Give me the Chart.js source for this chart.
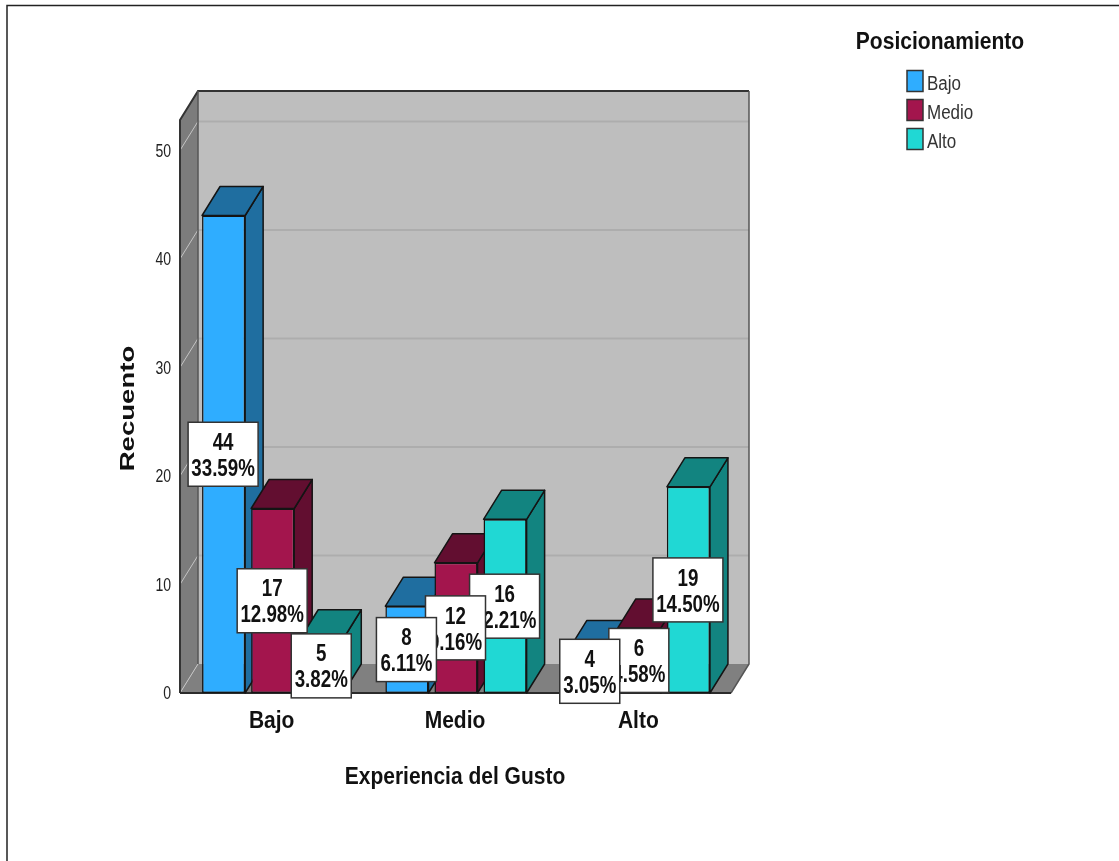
<!DOCTYPE html>
<html>
<head>
<meta charset="utf-8">
<style>
  html, body { margin: 0; padding: 0; background: #fff; }
  canvas { display: block; }
</style>
<script src="https://cdn.jsdelivr.net/npm/chart.js@4/dist/chart.umd.min.js"></script>
</head>
<body>
<canvas id="chart" width="1119" height="861"></canvas>
<script>
const categories = ['Bajo', 'Medio', 'Alto'];
const seriesNames = ['Bajo', 'Medio', 'Alto'];
const bajoCounts = [44, 8, 4];
const medioCounts = [17, 12, 6];
const altoCounts = [5, 16, 19];
const bajoPercents = ['33.59%', '6.11%', '3.05%'];
const medioPercents = ['12.98%', '9.16%', '4.58%'];
const altoPercents = ['3.82%', '12.21%', '14.50%'];
const yTicks = [0, 10, 20, 30, 40, 50];

const frontColors = ['#2fadff', '#a3154d', '#20d8d4'];
const sideColors = ['#1f6ea0', '#620e30', '#128480'];
const percentLists = [bajoPercents, medioPercents, altoPercents];

const SANS = '"Liberation Sans", Arial, sans-serif';
const DEPTH_X = 18;
const DEPTH_Y = 29;
const INK = '#141414';

function poly(ctx, pts, fill, stroke, lw) {
  ctx.beginPath();
  pts.forEach((p, i) => i ? ctx.lineTo(p[0], p[1]) : ctx.moveTo(p[0], p[1]));
  ctx.closePath();
  if (fill) { ctx.fillStyle = fill; ctx.fill(); }
  if (stroke) { ctx.strokeStyle = stroke; ctx.lineWidth = lw || 1; ctx.stroke(); }
}

// Text squeezed horizontally around its anchor, for the condensed label look
function condensedText(ctx, text, x, y, squeeze) {
  ctx.save();
  ctx.translate(x, y);
  ctx.scale(squeeze, 1);
  ctx.fillText(text, 0, 0);
  ctx.restore();
}

// Wraps one of a scale's draw methods in a transform about (ox, oy); fit runs
// more than once per update, so each method is wrapped only the first time.
function reshape(scale, method, ox, oy, sx, sy, dx = 0, dy = 0) {
  const key = '_reshaped_' + method;
  if (scale[key]) return;
  scale[key] = true;
  const original = scale[method];
  scale[method] = function (...args) {
    const c = this.ctx;
    c.save();
    c.translate(ox + dx, oy + dy);
    c.scale(sx, sy);
    c.translate(-ox, -oy);
    original.apply(this, args);
    c.restore();
  };
}

function drawBox(chart) {
  const { ctx, chartArea: a, scales: { y } } = chart;
  const left = a.left - 1, right = a.right, top = a.top, bottom = a.bottom;
  poly(ctx, [[left + DEPTH_X, top - DEPTH_Y], [right + DEPTH_X, top - DEPTH_Y],
             [right + DEPTH_X, bottom - DEPTH_Y], [left + DEPTH_X, bottom - DEPTH_Y]], '#bebebe');
  poly(ctx, [[left, top], [left + DEPTH_X, top - DEPTH_Y],
             [left + DEPTH_X, bottom - DEPTH_Y], [left, bottom]], '#7c7c7c');
  poly(ctx, [[left, bottom], [left + DEPTH_X, bottom - DEPTH_Y],
             [right + DEPTH_X, bottom - DEPTH_Y], [right, bottom]], '#808080');
  y.ticks.forEach(t => {
    const py = y.getPixelForValue(t.value);
    if (t.value !== 0) {
      ctx.lineWidth = 2;
      ctx.strokeStyle = '#adadad';
      ctx.beginPath();
      ctx.moveTo(left + DEPTH_X, py - DEPTH_Y);
      ctx.lineTo(right + DEPTH_X, py - DEPTH_Y);
      ctx.stroke();
    }
    ctx.strokeStyle = '#c4c4c4';
    ctx.lineWidth = 1;
    ctx.beginPath();
    ctx.moveTo(left, py);
    ctx.lineTo(left + DEPTH_X, py - DEPTH_Y);
    ctx.stroke();
  });

  ctx.strokeStyle = '#333';
  ctx.lineWidth = 2;
  ctx.beginPath();
  ctx.moveTo(left, bottom);
  ctx.lineTo(left, top);
  ctx.lineTo(left + DEPTH_X, top - DEPTH_Y);
  ctx.lineTo(right + DEPTH_X, top - DEPTH_Y);
  ctx.stroke();
  ctx.strokeStyle = '#555';
  ctx.lineWidth = 1.5;
  ctx.beginPath();
  ctx.moveTo(left + DEPTH_X, top - DEPTH_Y);
  ctx.lineTo(left + DEPTH_X, bottom - DEPTH_Y);
  ctx.moveTo(right + DEPTH_X, top - DEPTH_Y);
  ctx.lineTo(right + DEPTH_X, bottom - DEPTH_Y);
  ctx.lineTo(right, bottom);
  ctx.stroke();
  ctx.strokeStyle = '#2b2b2b';
  ctx.lineWidth = 2;
  ctx.beginPath();
  ctx.moveTo(left, bottom);
  ctx.lineTo(right, bottom);
  ctx.stroke();
}

function drawBarDepth(chart, index) {
  const { ctx } = chart;
  const side = sideColors[index];
  ctx.lineJoin = 'round';
  chart.getDatasetMeta(index).data.forEach(bar => {
    const half = bar.width / 2;
    const l = bar.x - half, r = bar.x + half, t = bar.y, b = bar.base;
    poly(ctx, [[r, t], [r + DEPTH_X, t - DEPTH_Y], [r + DEPTH_X, b - DEPTH_Y], [r, b]], side, INK, 1.5);
    poly(ctx, [[l, t], [l + DEPTH_X, t - DEPTH_Y], [r + DEPTH_X, t - DEPTH_Y], [r, t]], side, INK, 1.5);
  });
}

function drawValueBoxes(chart) {
  const { ctx } = chart;
  ctx.textAlign = 'center';
  ctx.textBaseline = 'middle';
  ctx.font = 'bold 24px ' + SANS;
  for (let d = chart.data.datasets.length - 1; d >= 0; d--) {
    const counts = chart.data.datasets[d].data;
    chart.getDatasetMeta(d).data.forEach((bar, i) => {
      const cx = bar.x - 0.5;
      const cy = (bar.y + bar.base) / 2;
      const pct = percentLists[d][i];
      const w = pct.length > 5 ? 70 : 60;
      const h = 64;
      ctx.fillStyle = '#fff';
      ctx.strokeStyle = '#333';
      ctx.lineWidth = 1.5;
      ctx.fillRect(cx - w / 2, cy - h / 2, w, h);
      ctx.strokeRect(cx - w / 2, cy - h / 2, w, h);
      ctx.fillStyle = '#111';
      condensedText(ctx, String(counts[i]), cx, cy - 11, 0.78);
      condensedText(ctx, pct, cx, cy + 15, 0.78);
    });
  }
}

function drawLegend(ctx) {
  ctx.textBaseline = 'middle';
  ctx.textAlign = 'center';
  ctx.fillStyle = '#111';
  ctx.font = 'bold 23px ' + SANS;
  condensedText(ctx, 'Posicionamiento', 940, 43, 0.915);
  ctx.textAlign = 'left';
  ctx.font = '20px ' + SANS;
  const rowY = [81, 110, 139];
  seriesNames.forEach((name, i) => {
    ctx.fillStyle = frontColors[i];
    ctx.strokeStyle = '#333';
    ctx.lineWidth = 1.5;
    ctx.fillRect(907, rowY[i] - 10.5, 16, 21);
    ctx.strokeRect(907, rowY[i] - 10.5, 16, 21);
    ctx.fillStyle = '#333';
    condensedText(ctx, name, 927, rowY[i] + 3, 0.85);
  });
}

function drawFrame(ctx) {
  ctx.strokeStyle = '#222';
  ctx.lineWidth = 1.5;
  ctx.beginPath();
  ctx.moveTo(7, 861);
  ctx.lineTo(7, 5.5);
  ctx.lineTo(1119, 5.5);
  ctx.stroke();
}

const boxPlugin = {
  id: 'box',
  // Series paint left to right so each bar's front covers its neighbour's side
  beforeDatasetsDraw(chart) {
    const { ctx } = chart;
    ctx.save();
    drawBox(chart);
    chart.data.datasets.forEach((ds, i) => {
      drawBarDepth(chart, i);
      chart.getDatasetMeta(i).controller.draw();
    });
    ctx.restore();
  },
  beforeDatasetDraw() { return false; },
  afterDatasetsDraw(chart) {
    const { ctx } = chart;
    ctx.save();
    drawValueBoxes(chart);
    drawLegend(ctx);
    drawFrame(ctx);
    ctx.restore();
  }
};

new Chart(document.getElementById('chart'), {
  type: 'bar',
  data: {
    labels: categories,
    datasets: [bajoCounts, medioCounts, altoCounts].map((values, i) => ({
      label: seriesNames[i],
      data: values,
      backgroundColor: frontColors[i],
      borderColor: INK,
      borderWidth: 1.5,
      borderSkipped: false,
      categoryPercentage: 0.803,
      barPercentage: 0.878
    }))
  },
  options: {
    responsive: false,
    animation: false,
    layout: { padding: { left: 0, top: 120, right: 388, bottom: 0 } },
    plugins: { legend: { display: false }, tooltip: { enabled: false } },
    scales: {
      x: {
        grid: { display: false, drawTicks: false },
        border: { display: false },
        afterFit(scale) {
          scale.height = 168;
          reshape(scale, 'drawLabels', 0, 720, 1, 1.12, -1, 0);
          reshape(scale, 'drawTitle', 0, 776, 1, 1.12, -1, 0);
        },
        ticks: { color: '#111', padding: 16, maxRotation: 0, font: { family: SANS, size: 21, weight: 'bold' } },
        title: {
          display: true,
          text: 'Experiencia del Gusto',
          color: '#111',
          font: { family: SANS, size: 21, weight: 'bold' },
          padding: { top: 0, bottom: 71 }
        }
      },
      y: {
        min: 0,
        max: 52.8,
        grid: { display: false, drawTicks: false },
        border: { display: false },
        afterFit(scale) {
          scale.width = 181;
          reshape(scale, 'drawLabels', 171, 0, 0.78, 1, 0, 1.5);
          reshape(scale, 'drawTitle', 127, 406, 0.8, 1.06, 0, 2);
        },
        afterBuildTicks(scale) { scale.ticks = yTicks.map(value => ({ value })); },
        ticks: { color: '#222', padding: 10, font: { family: SANS, size: 18 } },
        title: {
          display: true,
          text: 'Recuento',
          color: '#111',
          font: { family: SANS, size: 26, weight: 'bold' },
          padding: { top: 113, bottom: 0 }
        }
      }
    }
  },
  plugins: [boxPlugin]
});
</script>
</body>
</html>
